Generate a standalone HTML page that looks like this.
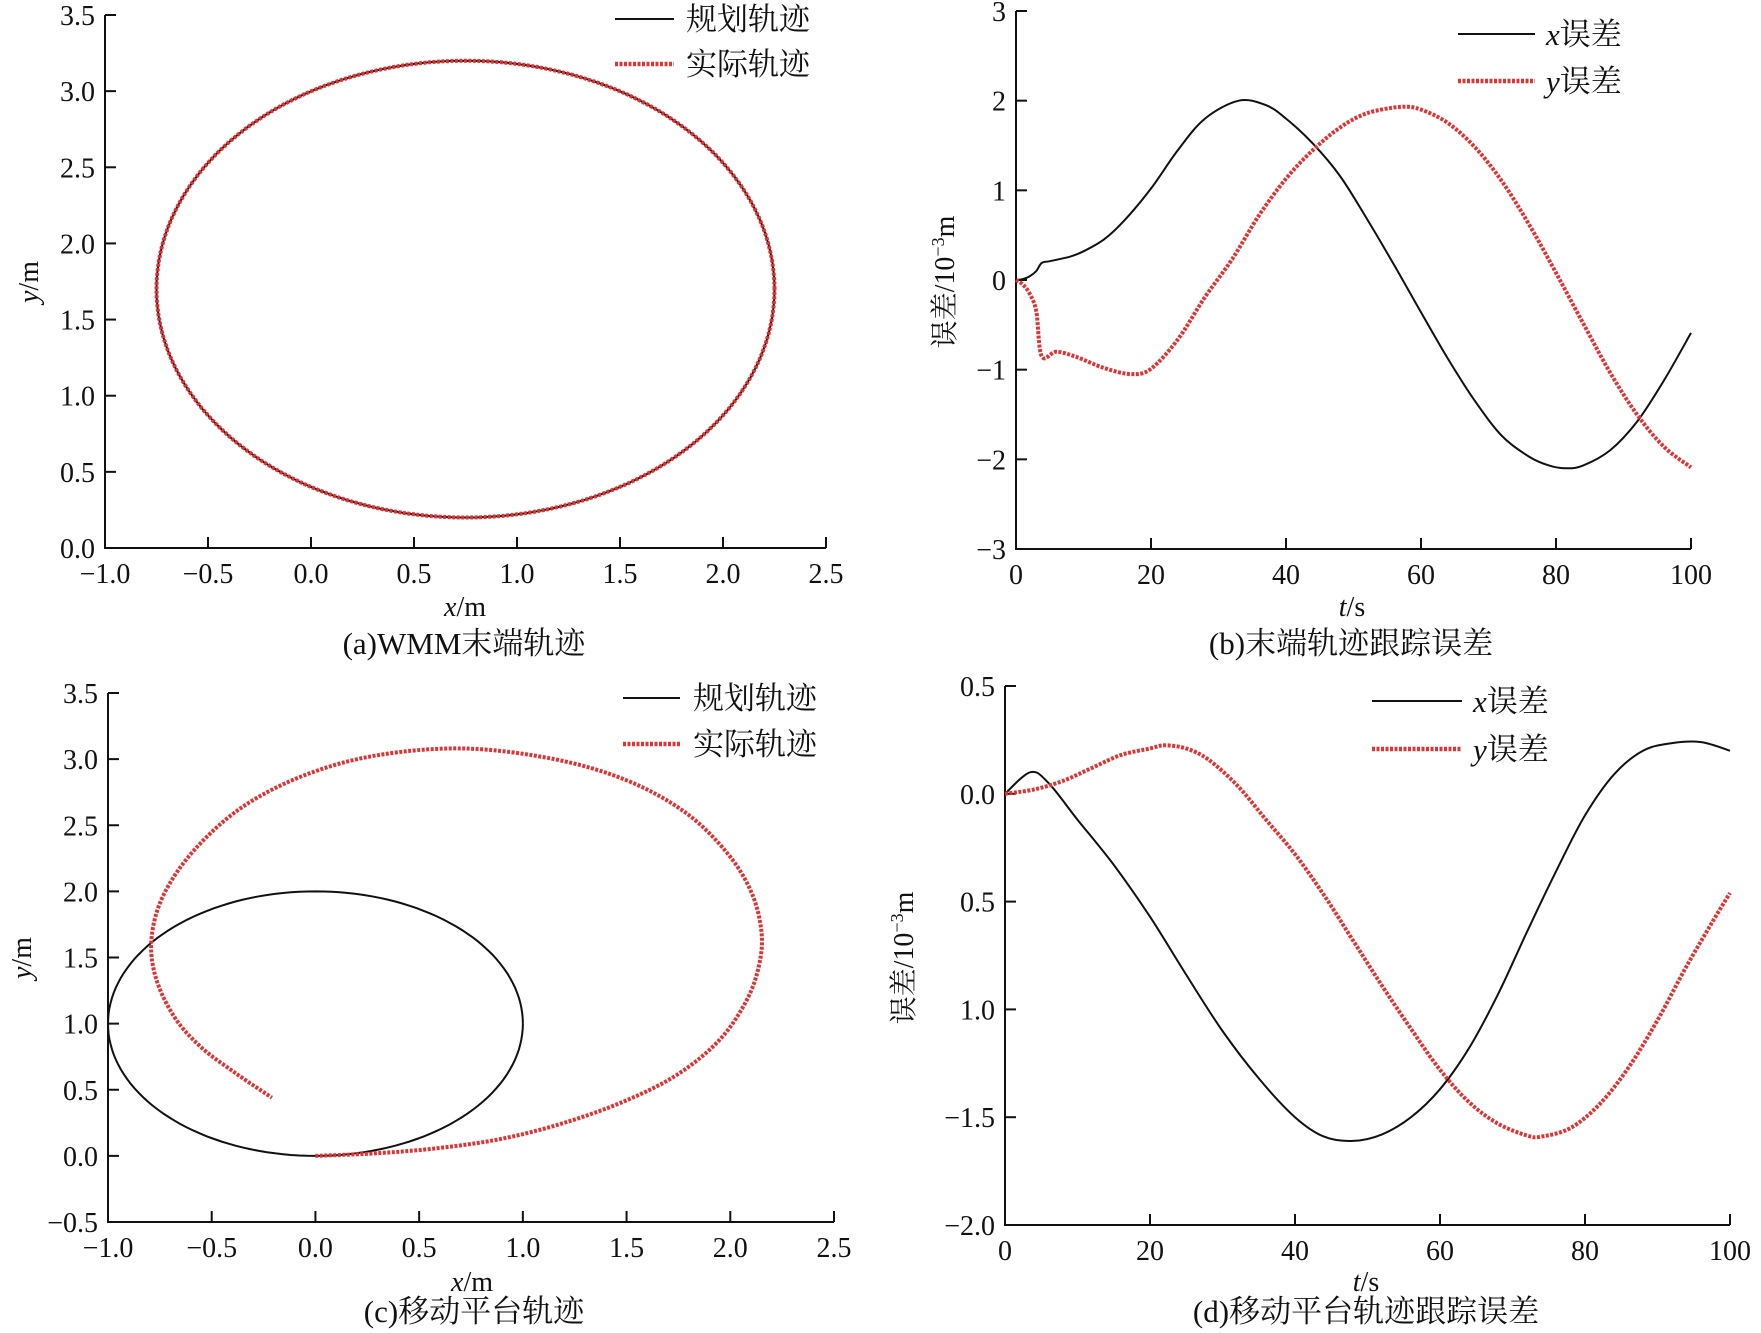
<!DOCTYPE html>
<html><head><meta charset="utf-8">
<style>
html,body{margin:0;padding:0;background:#fff;overflow:hidden;}
svg{display:block;}
text{font-family:"Liberation Serif","Noto Serif CJK SC","Noto Sans CJK SC",serif;fill:#111;}
</style></head>
<body>
<svg id="root" width="1761" height="1333" viewBox="0 0 1761 1333" xmlns="http://www.w3.org/2000/svg"></svg>
<script>
// ---------- data ----------
const aCenter = [0.75, 1.7];
const aRadii = [1.5, 1.5];
const bXT = [0,1,2,3,3.8,5,8,10,13,16,20,24,28,33,37,40,44,48,52,56,60,64,68,72,76,79,81.5,84,88,92,96,100];
const bXV = [0,0.01,0.04,0.1,0.19,0.21,0.26,0.32,0.45,0.66,1.02,1.45,1.8,2.0,1.95,1.8,1.52,1.16,0.68,0.17,-0.36,-0.88,-1.35,-1.74,-1.97,-2.07,-2.1,-2.07,-1.9,-1.58,-1.12,-0.59];
const bYT = [0,1,2,3,3.8,6,9,13,17,20,24,28,32,36,40,44,48,52,57,60,64,68,72,76,80,84,88,92,96,100];
const bYV = [0,-0.05,-0.15,-0.35,-0.85,-0.8,-0.86,-0.98,-1.05,-0.99,-0.66,-0.19,0.23,0.72,1.13,1.45,1.7,1.86,1.93,1.9,1.75,1.48,1.1,0.62,0.08,-0.48,-1.03,-1.5,-1.86,-2.09];
const bYTicks = ['−3','−2','−1','0','1','2','3'];
const cPlanCenter = [0, 1];
const cPlanRadii = [1, 1];
const cRealX = [0,0.3,0.6,0.9,1.2,1.5,1.75,1.95,2.08,2.14,2.15,2.1,1.98,1.78,1.5,1.15,0.72,0.3,-0.05,-0.35,-0.58,-0.73,-0.79,-0.77,-0.68,-0.55,-0.38,-0.21];
const cRealY = [0,0.02,0.06,0.13,0.25,0.42,0.62,0.88,1.18,1.45,1.7,2.0,2.3,2.6,2.84,3.0,3.08,3.03,2.88,2.64,2.32,1.98,1.65,1.35,1.05,0.82,0.62,0.44];
const dXT = [0,3.5,6,10,15,20,25,30,35,40,44,48,52,56,60,64,68,72,76,80,84,88,92,96,100];
const dXV = [0,0.1,0.05,-0.12,-0.33,-0.57,-0.84,-1.1,-1.32,-1.5,-1.59,-1.61,-1.58,-1.5,-1.37,-1.18,-0.93,-0.64,-0.36,-0.1,0.09,0.2,0.235,0.24,0.2];
const dYT = [0,4,8,12,16,20,22,25,28,32,36,40,44,48,52,56,60,64,68,72,74,78,82,86,90,94,98,100];
const dYV = [0,0.02,0.06,0.12,0.18,0.21,0.225,0.21,0.16,0.04,-0.12,-0.28,-0.47,-0.68,-0.89,-1.09,-1.28,-1.43,-1.53,-1.585,-1.59,-1.55,-1.44,-1.27,-1.05,-0.8,-0.57,-0.46];
const dYTicks = ['−2.0','−1.5','1.0','0.5','0.0','0.5'];
const ticksXY = ['−1.0','−0.5','0.0','0.5','1.0','1.5','2.0','2.5'];
const ticksT = ['0','20','40','60','80','100'];

// ---------- helpers ----------
const NS='http://www.w3.org/2000/svg';
const root=document.getElementById('root');
function el(tag,attrs,parent){const e=document.createElementNS(NS,tag);for(const k in attrs)e.setAttribute(k,attrs[k]);(parent||root).appendChild(e);return e;}
function scale(d0,d1,p0,p1){return v=>p0+(v-d0)/(d1-d0)*(p1-p0);}
function smoothPath(pts){
  let d='M'+pts[0][0].toFixed(1)+','+pts[0][1].toFixed(1);
  for(let i=0;i<pts.length-1;i++){
    const p0=pts[Math.max(0,i-1)],p1=pts[i],p2=pts[i+1],p3=pts[Math.min(pts.length-1,i+2)];
    const c1=[p1[0]+(p2[0]-p0[0])/6,p1[1]+(p2[1]-p0[1])/6];
    const c2=[p2[0]-(p3[0]-p1[0])/6,p2[1]-(p3[1]-p1[1])/6];
    d+=' C'+c1[0].toFixed(1)+','+c1[1].toFixed(1)+' '+c2[0].toFixed(1)+','+c2[1].toFixed(1)+' '+p2[0].toFixed(1)+','+p2[1].toFixed(1);
  }
  return d;
}
function ellipsePts(c,r,sx,sy){const p=[];for(let i=0;i<=160;i++){const a=i/160*2*Math.PI;p.push([sx(c[0]+r[0]*Math.cos(a)),sy(c[1]+r[1]*Math.sin(a))]);}return p;}
function linePath(p){return 'M'+p.map(q=>q[0].toFixed(1)+','+q[1].toFixed(1)).join(' L');}

function axes(g,L,R,T,B,xLabels,yLabels){
  el('path',{d:`M${L},${T} L${L},${B} L${R},${B}`,fill:'none',stroke:'#111','stroke-width':2},g);
  const xs=scale(0,xLabels.length-1,L,R), ys=scale(0,yLabels.length-1,B,T);
  xLabels.forEach((s,i)=>{
    const x=xs(i);
    el('line',{x1:x,y1:B,x2:x,y2:B-11,stroke:'#111','stroke-width':2},g);
    const t=el('text',{x:x,y:B+35,'font-size':28,'text-anchor':'middle'},g);
    
    
    t.textContent=s;
  });
  yLabels.forEach((s,i)=>{
    const y=ys(i);
    el('line',{x1:L,y1:y,x2:L+11,y2:y,stroke:'#111','stroke-width':2},g);
    const t=el('text',{x:L-10,y:y+10,'font-size':28,'text-anchor':'end'},g);
    
    
    t.textContent=s;
  });
}
const RED='#e03434';
function legend(g,x1,x2,tx,y1,y2,labels,italic){
  el('line',{x1:x1,y1:y1,x2:x2,y2:y1,stroke:'#111','stroke-width':2},g);
  el('line',{x1:x1,y1:y2,x2:x2,y2:y2,stroke:RED,'stroke-width':4.5,'stroke-dasharray':'3 1.5'},g);
  [y1,y2].forEach((yy,i)=>{
    const t=el('text',{x:tx,y:yy+11,'font-size':31},g);
    
    
    if(italic){t.innerHTML=`<tspan font-style="italic">${i?'y':'x'}</tspan>误差`;}
    else t.textContent=labels[i];
  });
}
function text(g,x,y,html,size,rot){
  const t=el('text',{x:x,y:y,'font-size':size,'text-anchor':'middle'},g);
  if(rot)t.setAttribute('transform',`rotate(-90 ${x} ${y})`);
  t.innerHTML=html;return t;
}

// ---------- panel a ----------
(function(){
  const g=el('g',{});
  
  
  const L=105,R=826,T=15,B=548;
  const sx=scale(-1,2.5,L,R), sy=scale(0,3.5,B,T);
  axes(g,L,R,T,B,ticksXY,['0.0','0.5','1.0','1.5','2.0','2.5','3.0','3.5']);
  const p=ellipsePts(aCenter,aRadii,sx,sy);
  const k=el('path',{d:linePath(p),fill:'none',stroke:'#111','stroke-width':2},g);
  
  
  const r=el('path',{d:linePath(p),fill:'none',stroke:RED,'stroke-width':4,'stroke-dasharray':'3 1.5'},g);
  
  
  legend(g,615,674,686,19,64,['规划轨迹','实际轨迹']);
  const yl=text(g,38,282,'<tspan font-style="italic">y</tspan>/m',28,true);
  
  const xl=text(g,465,616,'<tspan font-style="italic">x</tspan>/m',28);
  
  const c=text(g,464,654,'(a)WMM末端轨迹',31);
  
})();

// ---------- panel b ----------
(function(){
  const g=el('g',{});
  
  
  const L=1016,R=1691,T=11,B=549;
  const sx=scale(0,100,L,R), sy=scale(-3,3,B,T);
  axes(g,L,R,T,B,ticksT,bYTicks);
  const px=bXT.map((t,i)=>[sx(t),sy(bXV[i])]);
  const k=el('path',{d:smoothPath(px),fill:'none',stroke:'#111','stroke-width':2},g);
  
  const py=bYT.map((t,i)=>[sx(t),sy(bYV[i])]);
  const r=el('path',{d:smoothPath(py),fill:'none',stroke:RED,'stroke-width':4,'stroke-dasharray':'3 1.5'},g);
  
  legend(g,1458,1535,1546,34,81,null,true);
  const yl=text(g,954,282,'误差/10<tspan font-size="18" baseline-shift="super">−3</tspan>m',28,true);
  
  const xl=text(g,1352,616,'<tspan font-style="italic">t</tspan>/s',28);
  
  const c=text(g,1351,654,'(b)末端轨迹跟踪误差',31);
  
})();

// ---------- panel c ----------
(function(){
  const g=el('g',{});
  
  
  const L=108,R=834,T=693,B=1222;
  const sx=scale(-1,2.5,L,R), sy=scale(-0.5,3.5,B,T);
  axes(g,L,R,T,B,ticksXY,['−0.5','0.0','0.5','1.0','1.5','2.0','2.5','3.0','3.5']);
  const p=ellipsePts(cPlanCenter,cPlanRadii,sx,sy);
  const k=el('path',{d:linePath(p),fill:'none',stroke:'#111','stroke-width':2},g);
  
  const pr=cRealX.map((x,i)=>[sx(x),sy(cRealY[i])]);
  const r=el('path',{d:smoothPath(pr),fill:'none',stroke:RED,'stroke-width':4,'stroke-dasharray':'3 1.5'},g);
  
  legend(g,623,680,693,698,744,['规划轨迹','实际轨迹']);
  const yl=text(g,31,958,'<tspan font-style="italic">y</tspan>/m',28,true);
  
  const xl=text(g,472,1291,'<tspan font-style="italic">x</tspan>/m',28);
  
  const c=text(g,474,1322,'(c)移动平台轨迹',31);
  
})();

// ---------- panel d ----------
(function(){
  const g=el('g',{});
  
  
  const L=1005,R=1730,T=686,B=1225;
  const sx=scale(0,100,L,R), sy=scale(-2,0.5,B,T);
  axes(g,L,R,T,B,ticksT,dYTicks);
  const px=dXT.map((t,i)=>[sx(t),sy(dXV[i])]);
  const k=el('path',{d:smoothPath(px),fill:'none',stroke:'#111','stroke-width':2},g);
  
  const py=dYT.map((t,i)=>[sx(t),sy(dYV[i])]);
  const r=el('path',{d:smoothPath(py),fill:'none',stroke:RED,'stroke-width':4,'stroke-dasharray':'3 1.5'},g);
  
  legend(g,1372,1462,1473,701,749,null,true);
  const yl=text(g,913,958,'误差/10<tspan font-size="18" baseline-shift="super">−3</tspan>m',28,true);
  
  const xl=text(g,1366,1291,'<tspan font-style="italic">t</tspan>/s',28);
  
  const c=text(g,1366,1322,'(d)移动平台轨迹跟踪误差',31);
  
})();
</script>
</body></html>
